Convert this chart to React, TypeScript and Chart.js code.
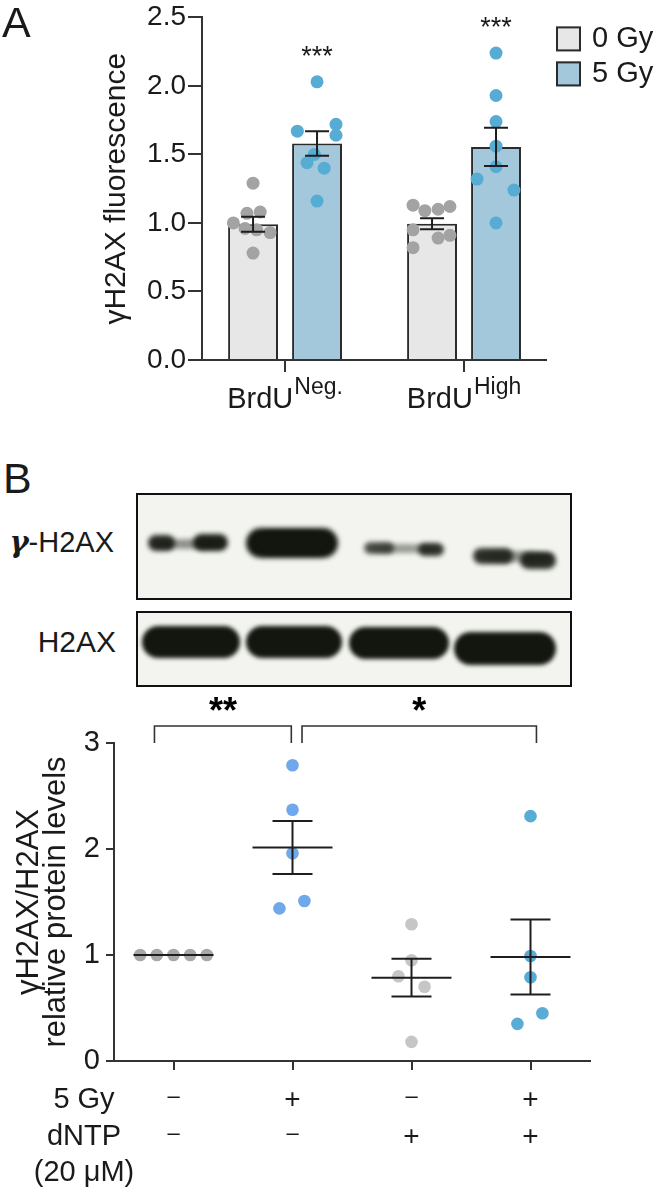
import React, { useEffect, useRef } from "react";
import { Chart, registerables } from "chart.js";

Chart.register(...registerables);

const FONT = '"Liberation Sans", Arial, Helvetica, sans-serif';
const AXIS = "#333333";
const INK = "#1a1a1a";

// ---------------- Panel A data ----------------
const brdUGroups = ["Neg.", "High"]; // superscripts after "BrdU"
const doseSeries = ["0 Gy", "5 Gy"];
const yTicksA = [0, 0.5, 1, 1.5, 2, 2.5];
const mean0Gy = [0.99, 0.995];
const mean5Gy = [1.58, 1.555];
const sem0Gy = [0.055, 0.04];
const sem5Gy = [0.09, 0.14];
const sigA = ["***", "***"];
const neg0Gy = [1.29, 1.08, 1.07, 1.0, 0.96, 0.95, 0.93, 0.78];
const neg0GyJitter = [0, 0.04, -0.034, -0.11, -0.045, 0.02, 0.095, 0];
const neg5Gy = [2.03, 1.72, 1.67, 1.64, 1.5, 1.44, 1.4, 1.16];
const neg5GyJitter = [0, 0.106, -0.11, 0.106, -0.015, -0.056, 0.04, 0];
const high0Gy = [1.13, 1.09, 1.1, 1.12, 0.95, 0.89, 0.91, 0.82];
const high0GyJitter = [-0.106, -0.04, 0.034, 0.1, -0.106, 0.034, 0.1, -0.106];
const high5Gy = [2.24, 1.93, 1.74, 1.56, 1.41, 1.32, 1.24, 1.0];
const high5GyJitter = [0, 0, 0, 0, 0, -0.106, 0.1, 0];

// ---------------- Panel B data ----------------
const conditionsB = [1, 2, 3, 4];
const gy5Row = ["-", "+", "-", "+"];
const dntpRow = ["-", "-", "+", "+"];
const rowLabelsB = ["5 Gy", "dNTP", "(20 μM)"];
const yTicksB = [0, 1, 2, 3];
const ctrlB = [1, 1, 1, 1, 1];
const ctrlBJitter = [-0.28, -0.14, 0, 0.14, 0.28];
const irB = [2.79, 2.37, 1.96, 1.44, 1.51];
const irBJitter = [0, 0, 0, -0.11, 0.1];
const dntpB = [1.29, 0.95, 0.8, 0.7, 0.18];
const dntpBJitter = [0, 0, -0.11, 0.11, 0];
const irDntpB = [2.31, 0.99, 0.79, 0.45, 0.35];
const irDntpBJitter = [0, 0, 0, 0.1, -0.11];
const meanB = [1.0, 2.014, 0.786, 0.981];
const semB = [0, 0.25, 0.178, 0.354];
const sigB = [
  { from: 0.84, to: 1.99, label: "**" },
  { from: 2.08, to: 4.05, label: "*" },
];

// ---------------- styling ----------------
const CAT_PCT = 0.715;
const BAR_PCT = 0.78;
const BAR_OFF = CAT_PCT / 4;
const barFillA = ["#e7e7e7", "#a3c8dc"];
const dotFillA = ["#a3a3a3", "#57acd4"];
const dotFillB = ["#a8a8a8", "#70a8ec", "#c6c6c6", "#58acd6"];

const toXY = (vals: number[], center: number, jitter: number[]) =>
  vals.map((v, k) => ({ x: center + jitter[k], y: v }));

function errorBar(ctx: CanvasRenderingContext2D, x: number, t: number, b: number, cap: number) {
  ctx.beginPath();
  ctx.moveTo(x, t);
  ctx.lineTo(x, b);
  ctx.moveTo(x - cap, t);
  ctx.lineTo(x + cap, t);
  ctx.moveTo(x - cap, b);
  ctx.lineTo(x + cap, b);
  ctx.stroke();
}

const panelAPlugin = {
  id: "panelA",
  afterDatasetsDraw(chart: any) {
    const { ctx, scales } = chart;
    const { x, y } = scales;
    ctx.save();
    ctx.strokeStyle = "#1e1e1e";
    ctx.lineWidth = 2;
    const sets: [number[], number[], number][] = [
      [mean0Gy, sem0Gy, -BAR_OFF],
      [mean5Gy, sem5Gy, BAR_OFF],
    ];
    sets.forEach(([m, s, off]) => {
      m.forEach((v, i) => {
        const px = x.getPixelForValue(i + off);
        errorBar(ctx, px, y.getPixelForValue(v + s[i]), y.getPixelForValue(v - s[i]), 12);
      });
    });
    ctx.restore();
  },
  afterDraw(chart: any) {
    const { ctx, chartArea: ca, scales } = chart;
    const { x, y } = scales;
    ctx.save();
    ctx.fillStyle = INK;
    ctx.textBaseline = "alphabetic";
    ctx.textAlign = "left";
    brdUGroups.forEach((sup, i) => {
      ctx.font = `29px ${FONT}`;
      const wMain = ctx.measureText("BrdU").width;
      ctx.font = `23px ${FONT}`;
      const wSup = ctx.measureText(sup).width;
      const cx = x.getPixelForValue(i);
      const x0 = cx - (wMain + 1 + wSup) / 2;
      ctx.font = `29px ${FONT}`;
      ctx.fillText("BrdU", x0, ca.bottom + 48);
      ctx.font = `23px ${FONT}`;
      ctx.fillText(sup, x0 + wMain + 1, ca.bottom + 34);
    });
    ctx.font = `27px ${FONT}`;
    ctx.textAlign = "center";
    [neg5Gy, high5Gy].forEach((pts, i) => {
      const top = y.getPixelForValue(Math.max(...pts));
      ctx.fillText(sigA[i], x.getPixelForValue(i + BAR_OFF), top - 17);
    });
    // legend
    doseSeries.forEach((name, k) => {
      const bx = ca.right + 10;
      const by = ca.top + 9 + k * 35;
      ctx.fillStyle = barFillA[k];
      ctx.fillRect(bx, by, 25, 25);
      ctx.strokeStyle = "#2b2b2b";
      ctx.lineWidth = 2;
      ctx.strokeRect(bx + 1, by + 1, 23, 23);
      ctx.fillStyle = INK;
      ctx.font = `29px ${FONT}`;
      ctx.textAlign = "left";
      ctx.textBaseline = "middle";
      ctx.fillText(name, bx + 36, by + 13);
    });
    ctx.restore();
  },
};

const panelBPlugin = {
  id: "panelB",
  afterDatasetsDraw(chart: any) {
    const { ctx, scales } = chart;
    const { x, y } = scales;
    ctx.save();
    ctx.strokeStyle = "#1e1e1e";
    ctx.lineWidth = 2;
    meanB.forEach((m, i) => {
      const cx = x.getPixelForValue(conditionsB[i]);
      const my = y.getPixelForValue(m);
      ctx.beginPath();
      ctx.moveTo(cx - 40, my);
      ctx.lineTo(cx + 40, my);
      ctx.stroke();
      if (semB[i] > 0) {
        errorBar(ctx, cx, y.getPixelForValue(m + semB[i]), y.getPixelForValue(m - semB[i]), 20);
      }
    });
    ctx.restore();
  },
  afterDraw(chart: any) {
    const { ctx, chartArea: ca, scales } = chart;
    const { x, y } = scales;
    ctx.save();
    // significance brackets
    ctx.strokeStyle = "#333";
    ctx.lineWidth = 1.6;
    const yb = y.getPixelForValue(3);
    const yl = yb - 17;
    sigB.forEach((b) => {
      const x1 = x.getPixelForValue(b.from);
      const x2 = x.getPixelForValue(b.to);
      ctx.beginPath();
      ctx.moveTo(x1, yb);
      ctx.lineTo(x1, yl);
      ctx.lineTo(x2, yl);
      ctx.lineTo(x2, yb);
      ctx.stroke();
      ctx.fillStyle = "#000";
      ctx.font = `bold 36px ${FONT}`;
      ctx.textAlign = "center";
      ctx.textBaseline = "alphabetic";
      ctx.fillText(b.label, (x1 + x2) / 2, yl - 3);
    });
    // condition table
    ctx.fillStyle = INK;
    ctx.textAlign = "center";
    ctx.textBaseline = "middle";
    const rowY = [ca.bottom + 39, ca.bottom + 76, ca.bottom + 112];
    [gy5Row, dntpRow].forEach((row, r) => {
      row.forEach((s, i) => {
        const px = x.getPixelForValue(conditionsB[i]);
        if (s === "+") {
          ctx.font = `28px ${FONT}`;
          ctx.fillText("+", px, rowY[r]);
        } else {
          ctx.font = `22px ${FONT}`;
          ctx.fillText("–", px, rowY[r] - 3);
        }
      });
    });
    ctx.font = `29px ${FONT}`;
    rowLabelsB.forEach((t, r) => ctx.fillText(t, ca.left - 30, rowY[r]));
    ctx.restore();
  },
};

function Band({ l, t, w, h, o = 1, b = 2.5, pill = false }: { l: number; t: number; w: number; h: number; o?: number; b?: number; pill?: boolean }) {
  return (
    <div
      style={{
        position: "absolute",
        left: l,
        top: t,
        width: w,
        height: h,
        borderRadius: pill ? `${h / 2}px` : "50%",
        background: "#12160e",
        filter: `blur(${b}px)`,
        opacity: o,
      }}
    />
  );
}

export default function App() {
  const refA = useRef<HTMLCanvasElement>(null);
  const refB = useRef<HTMLCanvasElement>(null);

  useEffect(() => {
    const axisGrid = (tickLength: number) => ({
      display: true,
      drawOnChartArea: false,
      drawTicks: true,
      offset: false,
      tickLength,
      color: AXIS,
      lineWidth: 2,
    });
    const border = { display: true, color: AXIS, width: 2 };

    const chartA = new Chart(refA.current as HTMLCanvasElement, {
      type: "bar",
      data: {
        datasets: [
          {
            type: "bar",
            label: doseSeries[0],
            data: mean0Gy.map((v, i) => ({ x: i, y: v })),
            backgroundColor: barFillA[0],
            borderColor: "#2b2b2b",
            borderWidth: 2,
            categoryPercentage: CAT_PCT,
            barPercentage: BAR_PCT,
            order: 2,
          },
          {
            type: "bar",
            label: doseSeries[1],
            data: mean5Gy.map((v, i) => ({ x: i, y: v })),
            backgroundColor: barFillA[1],
            borderColor: "#2b2b2b",
            borderWidth: 2,
            categoryPercentage: CAT_PCT,
            barPercentage: BAR_PCT,
            order: 2,
          },
          {
            type: "scatter",
            label: doseSeries[0] + " points",
            data: [...toXY(neg0Gy, 0 - BAR_OFF, neg0GyJitter), ...toXY(high0Gy, 1 - BAR_OFF, high0GyJitter)],
            backgroundColor: dotFillA[0],
            borderWidth: 0,
            pointRadius: 6.5,
            order: 1,
          },
          {
            type: "scatter",
            label: doseSeries[1] + " points",
            data: [...toXY(neg5Gy, 0 + BAR_OFF, neg5GyJitter), ...toXY(high5Gy, 1 + BAR_OFF, high5GyJitter)],
            backgroundColor: dotFillA[1],
            borderWidth: 0,
            pointRadius: 6.5,
            order: 1,
          },
        ] as any,
      },
      options: {
        responsive: false,
        animation: false,
        devicePixelRatio: 1,
        layout: { padding: { top: 16, right: 115, bottom: 0, left: 0 } },
        plugins: { legend: { display: false }, tooltip: { enabled: false } },
        scales: {
          x: {
            type: "linear",
            min: -0.464,
            max: 1.458,
            offset: false,
            afterBuildTicks: (s: any) => {
              s.ticks = brdUGroups.map((_, i) => ({ value: i }));
            },
            ticks: { display: false },
            grid: axisGrid(12),
            border,
            afterFit: (s: any) => {
              s.height = 60;
            },
          },
          y: {
            type: "linear",
            min: 0,
            max: 2.5,
            afterBuildTicks: (s: any) => {
              s.ticks = yTicksA.map((v) => ({ value: v }));
            },
            ticks: {
              callback: (v: any) => Number(v).toFixed(1),
              font: { family: FONT, size: 28, lineHeight: 1.1 },
              color: INK,
              padding: 2,
            },
            grid: axisGrid(14),
            border,
            title: {
              display: true,
              text: "γH2AX fluorescence",
              font: { family: FONT, size: 30, lineHeight: 1.2 },
              color: INK,
              padding: { top: 99, bottom: 0 },
            },
            afterFit: (s: any) => {
              s.width = 202;
            },
          },
        },
      } as any,
      plugins: [panelAPlugin],
    });

    const groupsB = [
      [ctrlB, ctrlBJitter],
      [irB, irBJitter],
      [dntpB, dntpBJitter],
      [irDntpB, irDntpBJitter],
    ];

    const chartB = new Chart(refB.current as HTMLCanvasElement, {
      type: "scatter",
      data: {
        datasets: groupsB.map(([vals, jit], i) => ({
          label: `condition ${i + 1}`,
          data: toXY(vals, conditionsB[i], jit),
          backgroundColor: dotFillB[i],
          borderWidth: 0,
          pointRadius: 6.3,
        })),
      },
      options: {
        responsive: false,
        animation: false,
        devicePixelRatio: 1,
        layout: { padding: { top: 53, right: 71, bottom: 111, left: 0 } },
        plugins: { legend: { display: false }, tooltip: { enabled: false } },
        scales: {
          x: {
            type: "linear",
            min: 0.5,
            max: 4.5,
            afterBuildTicks: (s: any) => {
              s.ticks = conditionsB.map((v) => ({ value: v }));
            },
            ticks: { display: false },
            grid: axisGrid(9),
            border,
            afterFit: (s: any) => {
              s.height = 20;
            },
          },
          y: {
            type: "linear",
            min: 0,
            max: 3,
            afterBuildTicks: (s: any) => {
              s.ticks = yTicksB.map((v) => ({ value: v }));
            },
            ticks: {
              font: { family: FONT, size: 29, lineHeight: 1.1 },
              color: INK,
              padding: 6,
            },
            grid: axisGrid(8),
            border,
            title: {
              display: true,
              text: ["γH2AX/H2AX", "relative protein levels"],
              font: { family: FONT, size: 31, lineHeight: 0.87 },
              color: INK,
              padding: { top: 16, bottom: 0 },
            },
            afterFit: (s: any) => {
              s.width = 114;
            },
          },
        },
      } as any,
      plugins: [panelBPlugin],
    });

    return () => {
      chartA.destroy();
      chartB.destroy();
    };
  }, []);

  const blotBox = (top: number, height: number): React.CSSProperties => ({
    position: "absolute",
    left: 136,
    top,
    width: 436,
    height,
    boxSizing: "border-box",
    border: "2px solid #111",
    background: "#f3f4ef",
  });

  return (
    <div
      style={{
        position: "absolute",
        left: 0,
        top: 0,
        width: 661,
        height: 1192,
        background: "#fff",
        fontFamily: FONT,
        color: INK,
        overflow: "hidden",
      }}
    >
      <canvas ref={refA} width={661} height={420} style={{ position: "absolute", left: 0, top: 0 }} />
      <div style={{ position: "absolute", left: 2, top: 1, fontSize: 43, lineHeight: "43px" }}>A</div>
      <div style={{ position: "absolute", left: 3, top: 457, fontSize: 43, lineHeight: "43px" }}>B</div>

      <div style={{ position: "absolute", left: 0, width: 114, top: 528, fontSize: 29, lineHeight: "29px", textAlign: "right", whiteSpace: "nowrap" }}>
        <span style={{ fontFamily: '"DejaVu Serif", serif', fontWeight: "bold", fontStyle: "italic" }}>γ</span>-H2AX
      </div>
      <div style={{ position: "absolute", left: 0, width: 116, top: 627, fontSize: 30, lineHeight: "30px", textAlign: "right" }}>H2AX</div>

      <div style={blotBox(493, 107)} />
      <div style={blotBox(611, 76)} />

      {/* γ-H2AX blot bands */}
      <Band l={152} t={539} w={72} h={10} o={0.45} />
      <Band l={148} t={535} w={27} h={16} o={0.9} pill />
      <Band l={193} t={534} w={35} h={17} o={0.95} pill />
      <Band l={246} t={528} w={92} h={30} o={1} pill />
      <Band l={258} t={532} w={70} h={22} o={1} b={2} pill />
      <Band l={368} t={544} w={72} h={9} o={0.4} />
      <Band l={364} t={542} w={30} h={12} o={0.7} pill />
      <Band l={418} t={543} w={26} h={13} o={0.85} pill />
      <Band l={477} t={551} w={76} h={11} o={0.45} />
      <Band l={473} t={548} w={40} h={16} o={0.85} pill />
      <Band l={520} t={552} w={36} h={17} o={0.9} pill />

      {/* H2AX blot bands */}
      <Band l={142} t={626} w={98} h={32} o={1} b={2} pill />
      <Band l={246} t={626} w={96} h={32} o={1} b={2} pill />
      <Band l={349} t={627} w={100} h={32} o={1} b={2} pill />
      <Band l={454} t={632} w={102} h={33} o={1} b={2} pill />

      <canvas ref={refB} width={661} height={502} style={{ position: "absolute", left: 0, top: 690 }} />
    </div>
  );
}
